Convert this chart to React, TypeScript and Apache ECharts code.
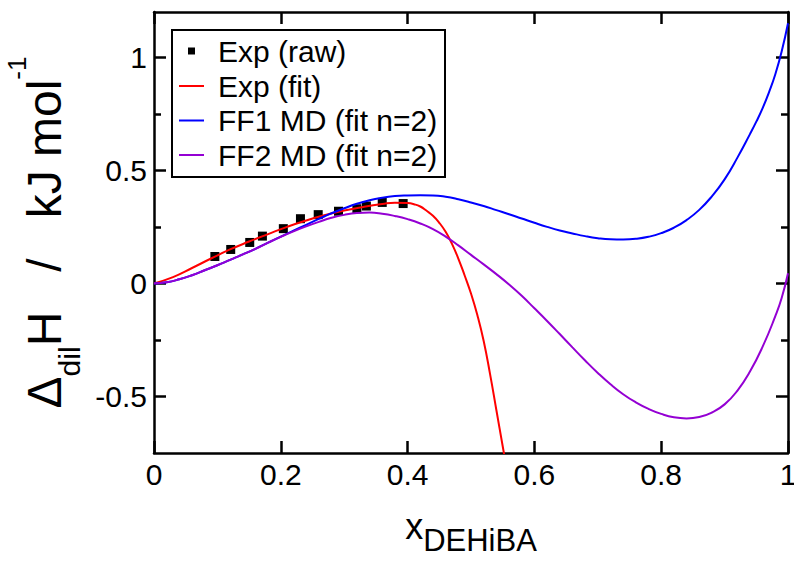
import React, { useEffect, useRef } from "react";
import * as echarts from "echarts";

// ---- data ----
const expRawX = [0.096, 0.121, 0.151, 0.171, 0.204, 0.231, 0.259, 0.291, 0.32, 0.335, 0.36, 0.393];
const expRawY = [0.119, 0.15, 0.181, 0.209, 0.242, 0.286, 0.304, 0.319, 0.33, 0.342, 0.358, 0.353];

const expFitX = [0, 0.03, 0.06, 0.09, 0.12, 0.15, 0.18, 0.21, 0.24, 0.27, 0.3, 0.33, 0.36, 0.38, 0.4, 0.41, 0.42, 0.43, 0.44, 0.45, 0.46, 0.47, 0.48, 0.49, 0.5, 0.51, 0.52, 0.53, 0.54, 0.55, 0.56];
const expFitY = [0, 0.028, 0.068, 0.11, 0.15, 0.185, 0.218, 0.25, 0.278, 0.302, 0.322, 0.338, 0.351, 0.357, 0.355, 0.35, 0.34, 0.321, 0.299, 0.268, 0.228, 0.175, 0.11, 0.035, -0.045, -0.14, -0.255, -0.4, -0.56, -0.72, -0.88];

const ff1X = [0, 0.02, 0.04, 0.06, 0.08, 0.1, 0.12, 0.14, 0.16, 0.18, 0.2, 0.22, 0.24, 0.26, 0.28, 0.3, 0.32, 0.34, 0.36, 0.38, 0.4, 0.42, 0.44, 0.46, 0.48, 0.5, 0.52, 0.54, 0.56, 0.58, 0.6, 0.62, 0.64, 0.66, 0.68, 0.7, 0.72, 0.74, 0.76, 0.78, 0.8, 0.82, 0.84, 0.86, 0.88, 0.9, 0.92, 0.94, 0.95, 0.96, 0.97, 0.98, 0.99, 1.0];
const ff1Y = [0, 0.005, 0.018, 0.036, 0.058, 0.08, 0.104, 0.128, 0.153, 0.18, 0.207, 0.233, 0.259, 0.285, 0.31, 0.332, 0.352, 0.368, 0.379, 0.386, 0.389, 0.39, 0.389, 0.383, 0.372, 0.358, 0.342, 0.324, 0.306, 0.287, 0.268, 0.25, 0.234, 0.221, 0.209, 0.2, 0.195, 0.194, 0.197, 0.206, 0.222, 0.246, 0.28, 0.325, 0.385, 0.46, 0.555, 0.66, 0.715, 0.775, 0.845, 0.925, 1.025, 1.15];

const ff2X = [0, 0.02, 0.04, 0.06, 0.08, 0.1, 0.12, 0.14, 0.16, 0.18, 0.2, 0.22, 0.24, 0.26, 0.28, 0.3, 0.32, 0.34, 0.36, 0.38, 0.4, 0.42, 0.44, 0.46, 0.48, 0.5, 0.52, 0.54, 0.56, 0.58, 0.6, 0.62, 0.64, 0.66, 0.68, 0.7, 0.72, 0.74, 0.76, 0.78, 0.8, 0.82, 0.84, 0.86, 0.88, 0.9, 0.92, 0.94, 0.96, 0.98, 0.99, 1.0];
const ff2Y = [0, 0.005, 0.018, 0.036, 0.058, 0.08, 0.104, 0.128, 0.153, 0.18, 0.206, 0.23, 0.252, 0.272, 0.29, 0.303, 0.311, 0.313, 0.308, 0.298, 0.284, 0.265, 0.24, 0.207, 0.168, 0.126, 0.084, 0.041, -0.005, -0.055, -0.11, -0.166, -0.224, -0.283, -0.341, -0.396, -0.446, -0.49, -0.526, -0.555, -0.577, -0.592, -0.597, -0.591, -0.571, -0.535, -0.475, -0.39, -0.28, -0.145, -0.065, 0.045];

const seriesNames = ["Exp (raw)", "Exp (fit)", "FF1 MD (fit n=2)", "FF2 MD (fit n=2)"];
const xTickInterval = 0.2;
const yMajorTicks = [-0.5, 0, 0.5, 1];
const yMinorTicks = [-0.25, 0.25, 0.75];
const xMin = 0;
const xMax = 1;
const yMin = -0.75;
const yMax = 1.2;

const FONT = "Liberation Sans, Arial, Helvetica, sans-serif";

const zip = (xs: number[], ys: number[]) => xs.map((x, i) => [x, ys[i]]);

export default function App() {
  const ref = useRef<HTMLDivElement>(null);

  useEffect(() => {
    if (!ref.current) return;
    const chart = echarts.init(ref.current, undefined, { renderer: "svg" });

    const lineW = 2.5;
    const baseX = {
      type: "value",
      min: xMin,
      max: xMax,
      interval: xTickInterval,
      splitLine: { show: false },
      axisLine: { onZero: false, lineStyle: { color: "#000", width: lineW } },
      axisTick: { inside: true, length: 12, lineStyle: { color: "#000", width: lineW } },
    };
    const baseY = {
      type: "value",
      min: yMin,
      max: yMax,
      splitLine: { show: false },
      axisLine: { onZero: false, lineStyle: { color: "#000", width: lineW } },
    };

    const option: any = {
      animation: false,
      backgroundColor: "#fff",
      grid: { left: 154, right: 6, top: 12, bottom: 108, containLabel: false, outerBoundsMode: "none" },
      xAxis: [
        {
          ...baseX,
          position: "bottom",
          axisLabel: { color: "#000", fontSize: 30, fontFamily: FONT, margin: 6 },
          name: "{m|x}{sub|DEHiBA}",
          nameLocation: "middle",
          nameGap: 43,
          nameTextStyle: {
            color: "#000",
            fontFamily: FONT,
            fontSize: 36,
            rich: {
              m: { fontSize: 36, lineHeight: 60, fontFamily: FONT, color: "#000" },
              sub: { fontSize: 31, lineHeight: 18, verticalAlign: "bottom", fontFamily: FONT, color: "#000" },
            },
          },
        },
        {
          ...baseX,
          position: "top",
          axisLabel: { show: false },
        },
      ],
      yAxis: [
        {
          ...baseY,
          position: "left",
          axisTick: { inside: true, length: 12, customValues: yMajorTicks, lineStyle: { color: "#000", width: lineW } },
          axisLabel: { customValues: yMajorTicks, color: "#000", fontSize: 30, fontFamily: FONT, margin: 7 },
          name: "{d|Δ}{sub|dil}{m|H   /   kJ mol}{sup|-1}",
          nameLocation: "middle",
          nameGap: 58,
          nameTextStyle: {
            color: "#000",
            fontFamily: FONT,
            fontSize: 48,
            rich: {
              d: { fontSize: 48, lineHeight: 80, fontFamily: FONT, color: "#000" },
              m: { fontSize: 48, lineHeight: 80, fontFamily: FONT, color: "#000" },
              sub: { fontSize: 30, lineHeight: 30, verticalAlign: "bottom", fontFamily: FONT, color: "#000" },
              sup: { fontSize: 26, lineHeight: 30, verticalAlign: "top", fontFamily: FONT, color: "#000" },
            },
          },
        },
        {
          ...baseY,
          position: "left",
          axisLine: { show: false, onZero: false },
          axisTick: { inside: true, length: 7, customValues: yMinorTicks, lineStyle: { color: "#000", width: lineW } },
          axisLabel: { show: false },
        },
        {
          ...baseY,
          position: "right",
          axisTick: { inside: true, length: 12, customValues: yMajorTicks, lineStyle: { color: "#000", width: lineW } },
          axisLabel: { show: false },
        },
        {
          ...baseY,
          position: "right",
          axisLine: { show: false, onZero: false },
          axisTick: { inside: true, length: 7, customValues: yMinorTicks, lineStyle: { color: "#000", width: lineW } },
          axisLabel: { show: false },
        },
      ],
      legend: [
        {
          data: [{ name: seriesNames[0], icon: "rect" }],
          orient: "vertical",
          left: 188,
          top: 34,
          padding: 0,
          itemWidth: 7,
          itemHeight: 7,
          selectedMode: false,
          z: 10,
          textStyle: { color: "#000", fontSize: 30, fontFamily: FONT, lineHeight: 34, padding: [0, 0, 0, 18] },
        },
        {
          data: seriesNames.slice(1).map((n) => ({ name: n, icon: "rect" })),
          orient: "vertical",
          left: 179,
          top: 69,
          padding: 0,
          itemGap: 0.5,
          itemWidth: 25,
          itemHeight: 2,
          selectedMode: false,
          z: 10,
          textStyle: { color: "#000", fontSize: 30, fontFamily: FONT, lineHeight: 34, padding: [0, 0, 0, 9] },
        },
      ],
      graphic: [
        {
          type: "rect",
          z: 5,
          shape: { x: 172, y: 30, width: 273, height: 147 },
          style: { fill: "#fff", stroke: "#000", lineWidth: 2 },
        },
      ],
      series: [
        {
          name: seriesNames[0],
          type: "scatter",
          data: zip(expRawX, expRawY),
          symbol: "rect",
          symbolSize: 9,
          itemStyle: { color: "#000", opacity: 1 },
          z: 2,
        },
        {
          name: seriesNames[1],
          type: "line",
          data: zip(expFitX, expFitY),
          smooth: 0.5,
          showSymbol: false,
          clip: true,
          lineStyle: { color: "#ff0000", width: 2 },
          itemStyle: { color: "#ff0000" },
          z: 3,
        },
        {
          name: seriesNames[2],
          type: "line",
          data: zip(ff1X, ff1Y),
          smooth: 0.5,
          showSymbol: false,
          clip: true,
          lineStyle: { color: "#0000ff", width: 2 },
          itemStyle: { color: "#0000ff" },
          z: 3,
        },
        {
          name: seriesNames[3],
          type: "line",
          data: zip(ff2X, ff2Y),
          smooth: 0.5,
          showSymbol: false,
          clip: true,
          lineStyle: { color: "#9400d3", width: 2 },
          itemStyle: { color: "#9400d3" },
          z: 3,
        },
      ],
    };

    chart.setOption(option);
    return () => chart.dispose();
  }, []);

  return (
    <div
      ref={ref}
      style={{ position: "absolute", left: 0, top: 0, width: 794, height: 561, background: "#fff" }}
    />
  );
}
